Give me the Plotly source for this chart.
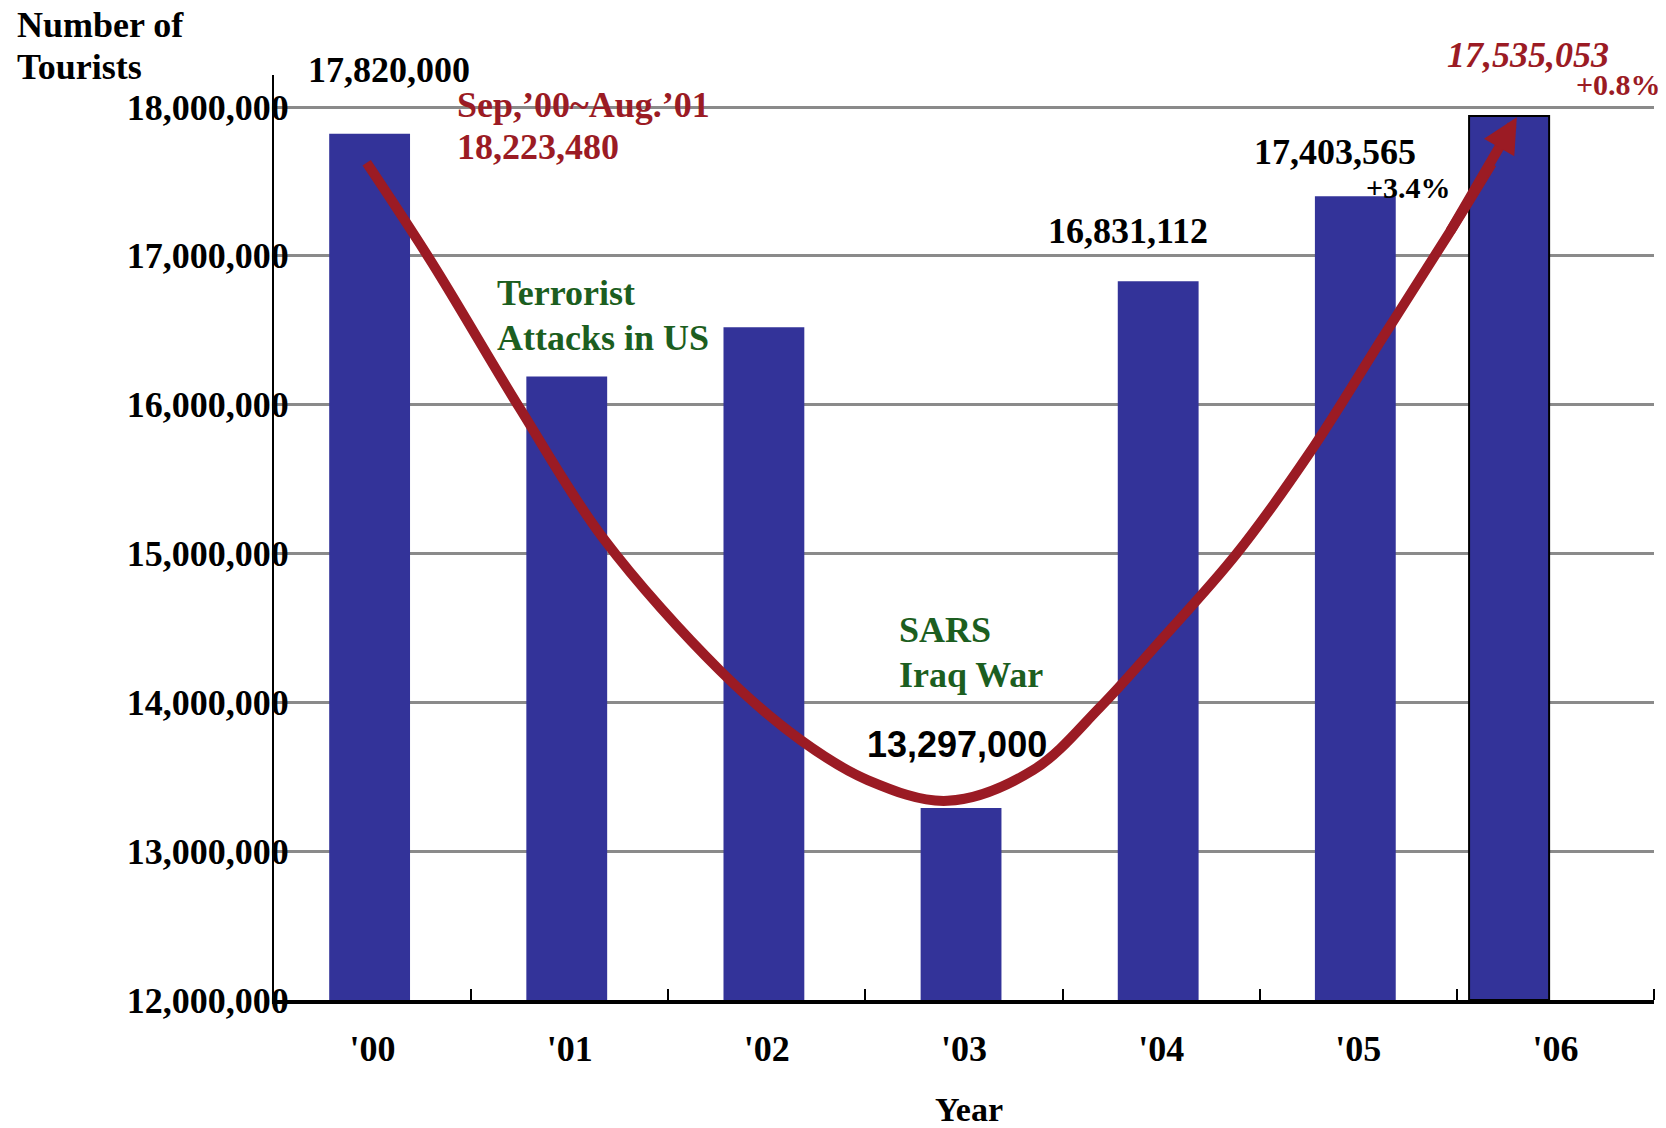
import plotly.graph_objects as go

# ---------------- data ----------------
years = ["'00", "'01", "'02", "'03", "'04", "'05", "'06"]
tourists = [17820000, 16190000, 16520000, 13290000, 16830000, 17400000, 17940000]

# decorative trend curve (category index, tourists)
trend_x = [-0.03, 0.30, 0.748, 1.169, 1.762, 2.172, 2.511, 2.916, 3.351, 3.690,
           3.977, 4.382, 4.753, 5.124, 5.462, 5.677]
trend_y = [17625000, 16956000, 15973000, 15104000, 14214000, 13746000, 13478000, 13338000,
           13545000, 13967000, 14385000, 14997000, 15676000, 16451000, 17155000, 17620000]
arrow_tip = (5.804, 17931000)

y_ticks = [12000000, 13000000, 14000000, 15000000, 16000000, 17000000, 18000000]
bar_offsets = [-0.22, -0.22, -0.22, -0.22, -0.22, -0.22, -0.438]

# ---------------- style ----------------
BAR = "#333399"
RED = "#9B1B24"
GREEN = "#1C5E20"
SERIF = "Liberation Serif"
SANS = "Liberation Sans"

W, H = 1666, 1128
L, R, T, B = 274, 12, 75, 128
YMIN, YMAX = 12000000, 18215000


def PX(px):
    return (px - L) / (W - L - R)


def PY(py):
    return 1 - (py - T) / (H - T - B)


fig = go.Figure()

fig.add_trace(go.Bar(
    x=list(range(len(years))), y=[v - YMIN for v in tourists], base=YMIN,
    width=[0.41] * 6 + [0.406], offset=bar_offsets,
    marker=dict(color=BAR,
                line=dict(color=["rgba(0,0,0,0)"] * 6 + ["black"], width=2)),
    hoverinfo="skip", showlegend=False,
))

fig.add_trace(go.Scatter(
    x=trend_x, y=trend_y, mode="lines",
    line=dict(color=RED, width=10, shape="spline", smoothing=1.0),
    hoverinfo="skip", showlegend=False,
))

ann = []


def txt(s, x, y, xanchor="center", size=36, color="black", family=SERIF, italic=False):
    ann.append(dict(
        text=s, x=PX(x), y=PY(y), xref="paper", yref="paper", xanchor=xanchor, yanchor="middle",
        showarrow=False,
        font=dict(family=family, size=size, color=color, weight="bold",
                  style="italic" if italic else "normal"),
    ))


# arrow head at the end of the trend curve
ann.append(dict(
    x=arrow_tip[0], y=arrow_tip[1], ax=trend_x[-2], ay=trend_y[-2],
    xref="x", yref="y", axref="x", ayref="y", text="", showarrow=True,
    arrowhead=2, arrowsize=0.7, arrowwidth=10, arrowcolor=RED, standoff=0,
))

txt("Number of", 15, 25, xanchor="left")
txt("Tourists", 15, 67, xanchor="left")
txt("17,820,000", 389, 70)
txt("Sep,\u201900~Aug.\u201901", 455, 105, xanchor="left", color=RED)
txt("18,223,480", 455, 147, xanchor="left", color=RED)
txt("Terrorist", 495, 293, xanchor="left", color=GREEN)
txt("Attacks in US", 495, 338, xanchor="left", color=GREEN)
txt("SARS", 897, 630, xanchor="left", color=GREEN)
txt("Iraq War", 897, 675, xanchor="left", color=GREEN)
txt("13,297,000", 957, 744, family=SANS)
txt("16,831,112", 1128, 231)
txt("17,403,565", 1335, 152)
txt("+3.4%", 1408, 188, size=30)
txt("17,535,053", 1528, 55, color=RED, italic=True)
txt("+0.8%", 1663, 84, xanchor="right", size=30, color=RED)
txt("Year", 969, 1109, size=34)

fig.update_layout(
    width=W, height=H,
    margin=dict(l=L, r=R, t=T, b=B),
    paper_bgcolor="white", plot_bgcolor="white",
    annotations=ann,
    xaxis=dict(
        range=[-0.5, 6.5], tickvals=list(range(len(years))), ticktext=years,
        ticks="", showgrid=False, zeroline=False,
        showline=True, linecolor="black", linewidth=4,
        tickfont=dict(family=SERIF, size=36, color="black", weight="bold"),
        ticklabelstandoff=14,
        minor=dict(tickvals=[0.5, 1.5, 2.5, 3.5, 4.5, 5.5, 6.5], ticks="inside",
                   ticklen=11, tickwidth=2, tickcolor="black", showgrid=False),
        fixedrange=True,
    ),
    yaxis=dict(
        range=[YMIN, YMAX], tickvals=y_ticks, tickformat=",",
        ticks="", showgrid=True, gridcolor="#8a8a8a", gridwidth=3,
        zeroline=False, showline=True, linecolor="black", linewidth=2,
        tickfont=dict(family=SERIF, size=36, color="black", weight="bold"),
        ticklabelstandoff=-24,
        fixedrange=True,
    ),
)

# remove the default 8px page margin so the figure fills the window exactly
fig.write_html("out.html", config={"displayModeBar": False},
               post_script="document.body.style.margin='0px';")
